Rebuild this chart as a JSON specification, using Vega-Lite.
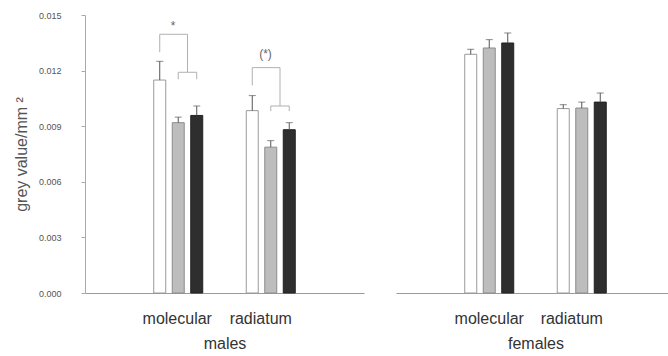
{
  "$schema": "https://vega.github.io/schema/vega-lite/v6.json",
  "padding": {"left": 13, "top": 11, "right": -6, "bottom": 0},
  "background": "white",
  "spacing": 32,
  "config": {
    "view": {"stroke": null},
    "font": "Liberation Sans",
    "axis": {"grid": false, "titleFontWeight": "normal"}
  },
  "datasets": {
    "bars": [
      {"sex": "males", "layer": "molecular", "type": "white", "value": 0.01149, "err": 0.0125},
      {"sex": "males", "layer": "molecular", "type": "grey", "value": 0.00919, "err": 0.00949},
      {"sex": "males", "layer": "molecular", "type": "black", "value": 0.00958, "err": 0.01009},
      {"sex": "males", "layer": "radiatum", "type": "white", "value": 0.00984, "err": 0.01065},
      {"sex": "males", "layer": "radiatum", "type": "grey", "value": 0.00787, "err": 0.00822},
      {"sex": "males", "layer": "radiatum", "type": "black", "value": 0.00881, "err": 0.00919},
      {"sex": "females", "layer": "molecular", "type": "white", "value": 0.01288, "err": 0.01315},
      {"sex": "females", "layer": "molecular", "type": "grey", "value": 0.01322, "err": 0.01367},
      {"sex": "females", "layer": "molecular", "type": "black", "value": 0.01349, "err": 0.01403},
      {"sex": "females", "layer": "radiatum", "type": "white", "value": 0.00995, "err": 0.01016},
      {"sex": "females", "layer": "radiatum", "type": "grey", "value": 0.00998, "err": 0.0103},
      {"sex": "females", "layer": "radiatum", "type": "black", "value": 0.0103, "err": 0.01079}
    ],
    "brackets": [
      {"bracket": "b1", "layer": "molecular", "pos": "white", "y": 0.01299, "ord": 1},
      {"bracket": "b1", "layer": "molecular", "pos": "white", "y": 0.01396, "ord": 2},
      {"bracket": "b1", "layer": "molecular", "pos": "gb", "y": 0.01396, "ord": 3},
      {"bracket": "b1", "layer": "molecular", "pos": "gb", "y": 0.01191, "ord": 4},
      {"bracket": "b2", "layer": "molecular", "pos": "grey", "y": 0.01153, "ord": 1},
      {"bracket": "b2", "layer": "molecular", "pos": "grey", "y": 0.01191, "ord": 2},
      {"bracket": "b2", "layer": "molecular", "pos": "black", "y": 0.01191, "ord": 3},
      {"bracket": "b2", "layer": "molecular", "pos": "black", "y": 0.01153, "ord": 4},
      {"bracket": "b3", "layer": "radiatum", "pos": "white", "y": 0.0112, "ord": 1},
      {"bracket": "b3", "layer": "radiatum", "pos": "white", "y": 0.01216, "ord": 2},
      {"bracket": "b3", "layer": "radiatum", "pos": "gb", "y": 0.01216, "ord": 3},
      {"bracket": "b3", "layer": "radiatum", "pos": "gb", "y": 0.01009, "ord": 4},
      {"bracket": "b4", "layer": "radiatum", "pos": "grey", "y": 0.00982, "ord": 1},
      {"bracket": "b4", "layer": "radiatum", "pos": "grey", "y": 0.01009, "ord": 2},
      {"bracket": "b4", "layer": "radiatum", "pos": "black", "y": 0.01009, "ord": 3},
      {"bracket": "b4", "layer": "radiatum", "pos": "black", "y": 0.00982, "ord": 4}
    ],
    "stars": [
      {"layer": "molecular", "pos": "wg", "y": 0.0144, "label": "*"},
      {"layer": "radiatum", "pos": "wg", "y": 0.01287, "label": "(*)"}
    ]
  },
  "hconcat": [
    {
      "width": 279,
      "height": 278,
      "layer": [
        {
          "data": {"name": "bars"},
          "transform": [{"filter": "datum.sex === 'males'"}],
          "mark": {"type": "bar", "width": 12, "strokeWidth": 1},
          "encoding": {
            "x": {
              "field": "layer", "type": "nominal",
              "scale": {"domain": ["molecular", "radiatum"], "paddingInner": 0.5, "paddingOuter": 0.758, "align": 0.5},
              "axis": {
                "labelAngle": 0, "ticks": false, "domainColor": "#9a9a9a",
                "labelFontSize": 16, "labelColor": "#333", "labelPadding": 17,
                "labelOffset": {"condition": {"test": "datum.value === 'radiatum'", "value": -10}, "value": -1},
                "titleFontSize": 16, "titleColor": "#333", "titlePadding": 9
              },
              "title": "males"
            },
            "xOffset": {"field": "type", "type": "nominal", "scale": {"domain": ["white", "wg", "grey", "gb", "black"], "paddingInner": 0, "paddingOuter": 0}},
            "y": {
              "field": "value", "type": "quantitative",
              "scale": {"domain": [0, 0.015], "nice": false},
              "axis": {
                "values": [0, 0.003, 0.006, 0.009, 0.012, 0.015], "format": ".3f",
                "domainColor": "#aaa", "tickColor": "#aaa", "tickSize": 4,
                "labelPadding": 20, "labelFontSize": 9, "labelColor": "#555",
                "titleFontSize": 16, "titleColor": "#555", "titlePadding": 9
              },
              "title": "grey value/mm ²"
            },
            "fill": {"field": "type", "type": "nominal", "scale": {"domain": ["white", "grey", "black"], "range": ["#ffffff", "#bdbdbd", "#2e2e2e"]}, "legend": null},
            "stroke": {"field": "type", "type": "nominal", "scale": {"domain": ["white", "grey", "black"], "range": ["#9a9a9a", "#8c8c8c", "#222222"]}, "legend": null}
          }
        },
        {
          "data": {"name": "bars"},
          "transform": [{"filter": "datum.sex === 'males'"}],
          "mark": {"type": "rule", "color": "#555", "strokeWidth": 1},
          "encoding": {
            "x": {"field": "layer", "type": "nominal"},
            "xOffset": {"field": "type", "type": "nominal"},
            "y": {"field": "value", "type": "quantitative"},
            "y2": {"field": "err"}
          }
        },
        {
          "data": {"name": "bars"},
          "transform": [{"filter": "datum.sex === 'males'"}],
          "mark": {"type": "tick", "color": "#555", "size": 7, "thickness": 1},
          "encoding": {
            "x": {"field": "layer", "type": "nominal"},
            "xOffset": {"field": "type", "type": "nominal"},
            "y": {"field": "err", "type": "quantitative"}
          }
        },
        {
          "data": {"name": "brackets"},
          "mark": {"type": "line", "color": "#b0b0b0", "strokeWidth": 1},
          "encoding": {
            "x": {"field": "layer", "type": "nominal"},
            "xOffset": {"field": "pos", "type": "nominal"},
            "y": {"field": "y", "type": "quantitative"},
            "detail": {"field": "bracket"},
            "order": {"field": "ord", "type": "quantitative"}
          }
        },
        {
          "data": {"name": "stars"},
          "mark": {"type": "text", "color": "#666666", "fontSize": 12, "dx": 4, "baseline": "middle"},
          "encoding": {
            "x": {"field": "layer", "type": "nominal"},
            "xOffset": {"field": "pos", "type": "nominal"},
            "y": {"field": "y", "type": "quantitative"},
            "text": {"field": "label"}
          }
        }
      ]
    },
    {
      "width": 279,
      "height": 278,
      "layer": [
        {
          "data": {"name": "bars"},
          "transform": [{"filter": "datum.sex === 'females'"}],
          "mark": {"type": "bar", "width": 12, "strokeWidth": 1},
          "encoding": {
            "x": {
              "field": "layer", "type": "nominal",
              "scale": {"domain": ["molecular", "radiatum"], "paddingInner": 0.5, "paddingOuter": 0.758, "align": 0.5},
              "axis": {
                "labelAngle": 0, "ticks": false, "domainColor": "#9a9a9a",
                "labelFontSize": 16, "labelColor": "#333", "labelPadding": 17,
                "labelOffset": {"condition": {"test": "datum.value === 'radiatum'", "value": -10}, "value": 0},
                "titleFontSize": 16, "titleColor": "#333", "titlePadding": 9
              },
              "title": "females"
            },
            "xOffset": {"field": "type", "type": "nominal", "scale": {"domain": ["white", "wg", "grey", "gb", "black"], "paddingInner": 0, "paddingOuter": 0}},
            "y": {"field": "value", "type": "quantitative", "scale": {"domain": [0, 0.015], "nice": false}, "axis": null},
            "fill": {"field": "type", "type": "nominal", "scale": {"domain": ["white", "grey", "black"], "range": ["#ffffff", "#bdbdbd", "#2e2e2e"]}, "legend": null},
            "stroke": {"field": "type", "type": "nominal", "scale": {"domain": ["white", "grey", "black"], "range": ["#9a9a9a", "#8c8c8c", "#222222"]}, "legend": null}
          }
        },
        {
          "data": {"name": "bars"},
          "transform": [{"filter": "datum.sex === 'females'"}],
          "mark": {"type": "rule", "color": "#555", "strokeWidth": 1},
          "encoding": {
            "x": {"field": "layer", "type": "nominal"},
            "xOffset": {"field": "type", "type": "nominal"},
            "y": {"field": "value", "type": "quantitative"},
            "y2": {"field": "err"}
          }
        },
        {
          "data": {"name": "bars"},
          "transform": [{"filter": "datum.sex === 'females'"}],
          "mark": {"type": "tick", "color": "#555", "size": 7, "thickness": 1},
          "encoding": {
            "x": {"field": "layer", "type": "nominal"},
            "xOffset": {"field": "type", "type": "nominal"},
            "y": {"field": "err", "type": "quantitative"}
          }
        }
      ]
    }
  ]
}
